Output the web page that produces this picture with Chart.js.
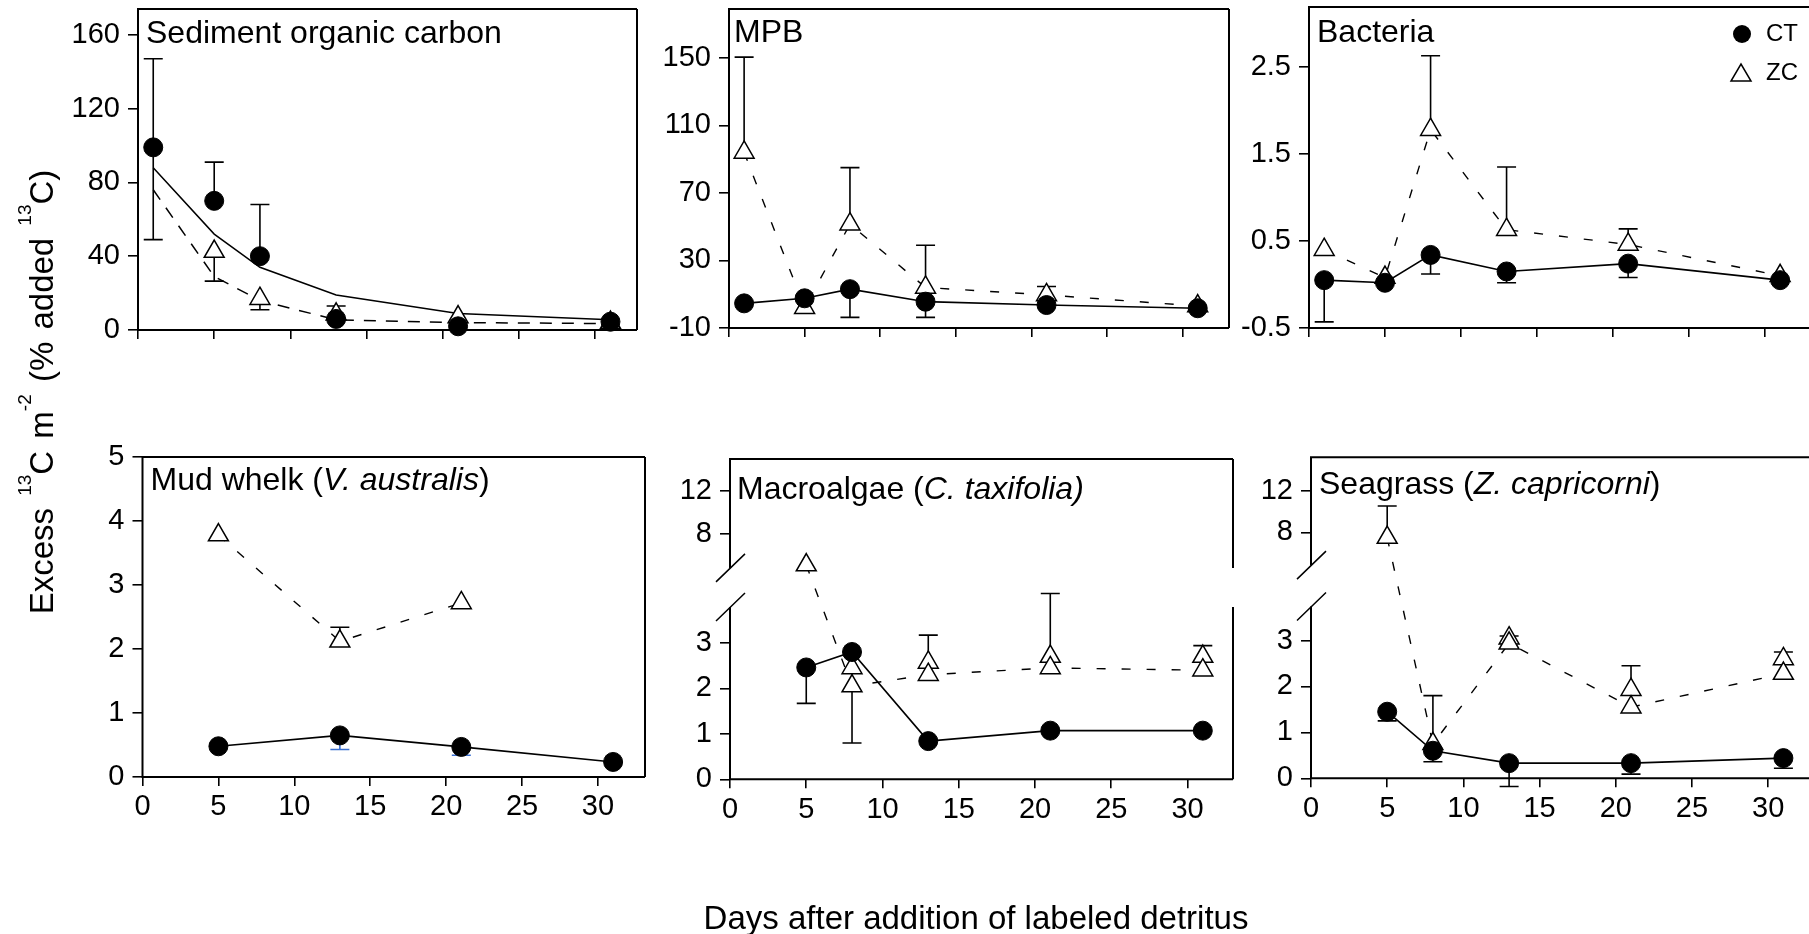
<!DOCTYPE html>
<html>
<head>
<meta charset="utf-8">
<script src="https://cdn.jsdelivr.net/npm/chart.js@4.4.1/dist/chart.umd.min.js"></script>
<style>
html, body { margin:0; padding:0; background:#fff; }
body { width:1809px; height:934px; position:relative; overflow:hidden; font-family:"Liberation Sans", Arial, Helvetica, sans-serif; color:#000; }
canvas { position:absolute; left:0; top:0; }
.lbl { position:absolute; white-space:nowrap; line-height:1; font-size:32px; }
.leg { position:absolute; white-space:nowrap; line-height:1; font-size:24px; }
.sup { font-size:19px; position:relative; top:-22px; }
</style>
</head>
<body>
<div id="charts"></div>

<div class="lbl" style="left:146px; top:16.4px;">Sediment organic carbon</div>
<div class="lbl" style="left:734px; top:14.9px;">MPB</div>
<div class="lbl" style="left:1317px; top:14.6px;">Bacteria</div>
<div class="lbl" style="left:150.5px; top:462.9px;">Mud whelk (<i>V. australis</i>)</div>
<div class="lbl" style="left:737px; top:471.9px;">Macroalgae (<i>C. taxifolia)</i></div>
<div class="lbl" style="left:1319px; top:466.9px;">Seagrass (<i>Z. capricorni</i>)</div>

<svg style="position:absolute; left:0; top:0;" width="1809" height="934">
  <circle cx="1742" cy="34" r="9" fill="#000"/>
  <polygon points="1731,81 1751,81 1741,64" fill="#fff" stroke="#000" stroke-width="1.5"/>
</svg>
<div class="leg" style="left:1766px; top:21.4px;">CT</div>
<div class="leg" style="left:1766px; top:60.4px;">ZC</div>

<div style="position:absolute; left:40.6px; top:392px; transform:translate(-50%,-50%) rotate(-90deg); font-size:33px; line-height:1; white-space:nowrap; word-spacing:3px;">Excess <span class="sup">13</span>C m<span class="sup">-2</span> (% added <span class="sup">13</span>C)</div>
<div style="position:absolute; left:976px; top:901px; transform:translateX(-50%); font-size:33px; line-height:1; white-space:nowrap;">Days after addition of labeled detritus</div>

<script>
const FONT = '"Liberation Sans", Arial, Helvetica, sans-serif';

// ---------------- data ----------------
const xTicks = [0, 5, 10, 15, 20, 25, 30];
const topDays = [1, 5, 8, 13, 21, 31];
const bottomDays = [5, 8, 13, 21, 31];
const mwDays = [5, 13, 21, 31];

// Sediment organic carbon
const socYTicks = [0, 40, 80, 120, 160];
const socCT = [99, 70, 40, 6, 2, 4.5];
const socCTErrUp = [48, 21, 28, 7, 0, 0];
const socCTErrDown = [50, 0, 0, 0, 0, 0];
const socZC = [null, 42.5, 17, 8.5, 7, 4];
const socZCErrDown = [0, 16, 6, 0, 0, 0];
const socFitCT = [88, 52, 34, 19, 9, 5.5];
const socFitZC = [76, 29, 16, 5.5, 4, 3.5];

// MPB
const mpbYTicks = [-10, 30, 70, 110, 150];
const mpbCT = [4.6, 7.6, 13, 5.6, 3.6, 1.7];
const mpbCTErrDown = [0, 0, 16.7, 9.3, 0, 0];
const mpbZC = [94, 2, 51.5, 14, 9.6, 3];
const mpbZCErrUp = [56.5, 0, 33.5, 25, 5, 0];

// Bacteria
const bacYTicks = [-0.5, 0.5, 1.5, 2.5];
const bacCT = [0.05, 0.02, 0.34, 0.15, 0.24, 0.05];
const bacCTErrDown = [0.48, 0, 0.22, 0.13, 0.16, 0];
const bacZC = [0.4, 0.08, 1.78, 0.63, 0.46, 0.1];
const bacZCErrUp = [0, 0, 0.85, 0.72, 0.18, 0];

// Mud whelk
const mwYTicks = [0, 1, 2, 3, 4, 5];
const mwCT = [0.48, 0.65, 0.47, 0.235];
const mwCTErrDown = [0, 0.22, 0.13, 0];
const mwZC = [3.78, 2.12, 2.72, null];
const mwZCErrUp = [0, 0.22, 0, 0];

// Broken-axis panels
const brokenYTicks = [0, 1, 2, 3, 8, 12];

// Macroalgae
const maCT = [2.46, 2.8, 0.84, 1.07, 1.07];
const maCTErrDown = [0.79, 0, 0, 0, 0];
const maZC = [5.15, 2.05, 2.3, 2.45, 2.4];
const maZC2 = [null, 2.45, 2.57, 2.7, 2.7];
const maZC2ErrUp = [0, 0, 0.6, 1.47, 0.24];
const maZC2ErrDown = [0, 1.65, 0, 0, 0];

// Seagrass
const sgCT = [1.45, 0.6, 0.33, 0.33, 0.44];
const sgCTErrDown = [0.2, 0.24, 0.51, 0.24, 0.22];
const sgZC = [7.5, 0.75, 2.94, 1.55, 2.28];
const sgZCErrUp = [3.05, 1.05, 0, 0, 0];
const sgZC2 = [null, null, 3.05, 1.93, 2.6];
const sgZC2ErrUp = [0, 0, 0.05, 0.52, 0.15];

// ---------------- broken y scale ----------------
class BrokenScale extends Chart.LinearScale {
  _brk() { return this.options.brk; }
  getPixelForValue(value) {
    const b = this._brk();
    const H = this.bottom - this.top;
    const lowPx = H * b.lowFrac, gapPx = H * b.gapFrac, upPx = H - lowPx - gapPx;
    if (value <= b.lowMax) return this.bottom - (value - this.min) / (b.lowMax - this.min) * lowPx;
    if (value >= b.upMin) return this.top + (this.max - value) / (this.max - b.upMin) * upPx;
    return this.bottom - lowPx - (value - b.lowMax) / (b.upMin - b.lowMax) * gapPx;
  }
  getValueForPixel(pixel) {
    const b = this._brk();
    const H = this.bottom - this.top;
    const lowPx = H * b.lowFrac, gapPx = H * b.gapFrac, upPx = H - lowPx - gapPx;
    const fromBottom = this.bottom - pixel;
    if (fromBottom <= lowPx) return this.min + fromBottom / lowPx * (b.lowMax - this.min);
    if (fromBottom >= lowPx + gapPx) return this.max - (pixel - this.top) / upPx * (this.max - b.upMin);
    return b.lowMax + (fromBottom - lowPx) / gapPx * (b.upMin - b.lowMax);
  }
}
BrokenScale.id = 'brokenY';
BrokenScale.defaults = {};
Chart.register(BrokenScale);

// ---------------- plugins ----------------
const framePlugin = {
  id: 'frame',
  beforeDatasetsDraw(chart, args, o) {
    const { left, right, top, bottom } = chart.chartArea;
    const ctx = chart.ctx;
    ctx.save();
    ctx.strokeStyle = '#000';
    ctx.lineWidth = 2;
    ctx.beginPath();
    ctx.moveTo(left - 1, top); ctx.lineTo(right, top);
    ctx.moveTo(left - 1, bottom); ctx.lineTo(right, bottom);
    const sides = o.noRight ? [left] : [left, right];
    let g1, g2;
    if (o.broken) {
      const ys = chart.scales.y;
      const b = ys.options.brk;
      g1 = ys.getPixelForValue(b.upMin);
      g2 = ys.getPixelForValue(b.lowMax);
      sides.forEach(x => { ctx.moveTo(x, top); ctx.lineTo(x, g1); ctx.moveTo(x, g2); ctx.lineTo(x, bottom); });
    } else {
      sides.forEach(x => { ctx.moveTo(x, top); ctx.lineTo(x, bottom); });
    }
    ctx.stroke();
    if (o.broken) {
      ctx.lineWidth = 1.5;
      ctx.beginPath();
      ctx.moveTo(left - 14, g1 + 14); ctx.lineTo(left + 15, g1 - 14);
      ctx.moveTo(left - 14, g2 + 14); ctx.lineTo(left + 15, g2 - 14);
      ctx.stroke();
    }
    ctx.restore();
  }
};

const errorBarPlugin = {
  id: 'errorBars',
  beforeDatasetsDraw(chart) {
    const ctx = chart.ctx, xs = chart.scales.x, ys = chart.scales.y;
    chart.data.datasets.forEach(ds => {
      if (!ds.errUp && !ds.errDown) return;
      ds.data.forEach((p, i) => {
        if (p.y === null || p.y === undefined) return;
        const px = xs.getPixelForValue(p.x), py = ys.getPixelForValue(p.y);
        [[ds.errUp, 1, ds.errUpColor], [ds.errDown, -1, ds.errDownColor]].forEach(([arr, s, col]) => {
          if (!arr || !arr[i]) return;
          const ey = ys.getPixelForValue(p.y + s * arr[i]);
          ctx.save();
          ctx.strokeStyle = col || '#000';
          ctx.lineWidth = 1.6;
          ctx.beginPath();
          ctx.moveTo(px, py); ctx.lineTo(px, ey);
          ctx.moveTo(px - 9.5, ey); ctx.lineTo(px + 9.5, ey);
          ctx.stroke();
          ctx.restore();
        });
      });
    });
  }
};

// ---------------- dataset builders ----------------
function pts(xs, ys) { return xs.map((x, i) => ({ x: x, y: ys[i] })); }

function ctSet(xs, ys, up, down, line, downColor) {
  return {
    label: 'CT', data: pts(xs, ys), showLine: line, spanGaps: true, clip: false,
    borderColor: '#000', backgroundColor: '#000', borderWidth: 1.6, tension: 0,
    pointStyle: 'circle', pointRadius: 9.5, pointHoverRadius: 9.5, pointBorderWidth: 1,
    pointBackgroundColor: '#000', pointBorderColor: '#000', order: 0,
    errUp: up, errDown: down, errDownColor: downColor
  };
}
function zcSet(xs, ys, up, down, line) {
  return {
    label: 'ZC', data: pts(xs, ys), showLine: line, spanGaps: true, clip: false,
    borderColor: '#000', backgroundColor: '#fff', borderWidth: 1.4, borderDash: [9, 16], tension: 0,
    pointStyle: 'triangle', pointRadius: 11.5, pointHoverRadius: 11.5, pointBorderWidth: 1.5,
    pointBackgroundColor: '#fff', pointBorderColor: '#000', order: 1,
    errUp: up, errDown: down
  };
}
function fitSet(xs, ys, dash) {
  return {
    label: 'fit', data: pts(xs, ys), showLine: true, clip: false,
    borderColor: '#000', borderWidth: 1.5, borderDash: dash, tension: 0,
    pointRadius: 0, pointHoverRadius: 0, order: 2
  };
}

// ---------------- chart factory ----------------
const YW = 120, XH = 60;
function zeroPad(s) { s.paddingTop = 0; s.paddingBottom = 0; s.paddingLeft = 0; s.paddingRight = 0; }
function makeChart(p) {
  const c = document.createElement('canvas');
  c.width = 1809; c.height = 934;
  document.getElementById('charts').appendChild(c);
  const yScale = {
    type: p.broken ? 'brokenY' : 'linear',
    min: p.yMin, max: p.yMax, bounds: 'data',
    afterBuildTicks: s => { s.ticks = p.yTicks.map(v => ({ value: v })); },
    afterFit: s => { s.width = YW; zeroPad(s); },
    grid: { display: true, drawOnChartArea: false, drawTicks: true, tickLength: 10, color: '#000', lineWidth: 1.6 },
    border: { display: false },
    ticks: { font: { family: FONT, size: 29 }, color: '#000', padding: 8, autoSkip: false, callback: v => String(v) }
  };
  if (p.broken) yScale.brk = p.broken;
  const xScale = {
    type: 'linear', min: 0, max: p.xMax, bounds: 'data',
    afterBuildTicks: s => { s.ticks = xTicks.map(v => ({ value: v })); },
    afterFit: s => { s.height = XH; zeroPad(s); },
    grid: { display: true, drawOnChartArea: false, drawTicks: true, tickLength: 9, color: '#000', lineWidth: 1.6 },
    border: { display: false },
    ticks: { display: !!p.xLabels, font: { family: FONT, size: 29 }, color: '#000', padding: 4, autoSkip: false, maxRotation: 0, callback: v => String(v) }
  };
  return new Chart(c, {
    type: 'line',
    data: { datasets: p.datasets },
    options: {
      responsive: false, animation: false, devicePixelRatio: 1, events: [],
      layout: { autoPadding: false, padding: { left: p.L - YW, right: 1809 - p.R, top: p.T, bottom: 934 - p.B - XH } },
      scales: { x: xScale, y: yScale },
      plugins: { legend: { display: false }, tooltip: { enabled: false }, frame: { noRight: !!p.noRight, broken: !!p.broken } }
    },
    plugins: [framePlugin, errorBarPlugin]
  });
}

// ---------------- panels ----------------
makeChart({
  L: 138, R: 637, T: 9, B: 330, xMax: 32.74, yMin: 0, yMax: 174, yTicks: socYTicks,
  datasets: [
    ctSet(topDays, socCT, socCTErrUp, socCTErrDown, false),
    zcSet(topDays, socZC, null, socZCErrDown, false),
    fitSet(topDays, socFitCT, []),
    fitSet(topDays, socFitZC, [12, 10])
  ]
});
makeChart({
  L: 729, R: 1229, T: 9, B: 328, xMax: 33.07, yMin: -10, yMax: 179, yTicks: mpbYTicks,
  datasets: [
    ctSet(topDays, mpbCT, null, mpbCTErrDown, true),
    zcSet(topDays, mpbZC, mpbZCErrUp, null, true)
  ]
});
makeChart({
  L: 1309, R: 1809, T: 7, B: 328, xMax: 32.9, yMin: -0.5, yMax: 3.19, yTicks: bacYTicks, noRight: true,
  datasets: [
    ctSet(topDays, bacCT, null, bacCTErrDown, true),
    zcSet(topDays, bacZC, bacZCErrUp, null, true)
  ]
});
makeChart({
  L: 142.5, R: 645, T: 457, B: 777, xMax: 33.1, yMin: 0, yMax: 5, yTicks: mwYTicks, xLabels: true,
  datasets: [
    ctSet(mwDays, mwCT, null, mwCTErrDown, true, '#3a6fd0'),
    zcSet(mwDays, mwZC, mwZCErrUp, null, true)
  ]
});
makeChart({
  L: 730, R: 1233, T: 459, B: 779.3, xMax: 32.98, yMin: 0, yMax: 14.95, yTicks: brokenYTicks, xLabels: true,
  broken: { lowMax: 3.79, upMin: 4.89, lowFrac: 0.538, gapFrac: 0.122 },
  datasets: [
    ctSet(bottomDays, maCT, null, maCTErrDown, true),
    zcSet(bottomDays, maZC, null, null, true),
    zcSet(bottomDays, maZC2, maZC2ErrUp, maZC2ErrDown, false)
  ]
});
makeChart({
  L: 1311, R: 1809, T: 457.3, B: 778.3, xMax: 32.68, yMin: 0, yMax: 15.26, yTicks: brokenYTicks, xLabels: true, noRight: true,
  broken: { lowMax: 3.74, upMin: 4.83, lowFrac: 0.535, gapFrac: 0.129 },
  datasets: [
    ctSet(bottomDays, sgCT, null, sgCTErrDown, true),
    zcSet(bottomDays, sgZC, sgZCErrUp, null, true),
    zcSet(bottomDays, sgZC2, sgZC2ErrUp, null, false)
  ]
});
</script>
</body>
</html>
